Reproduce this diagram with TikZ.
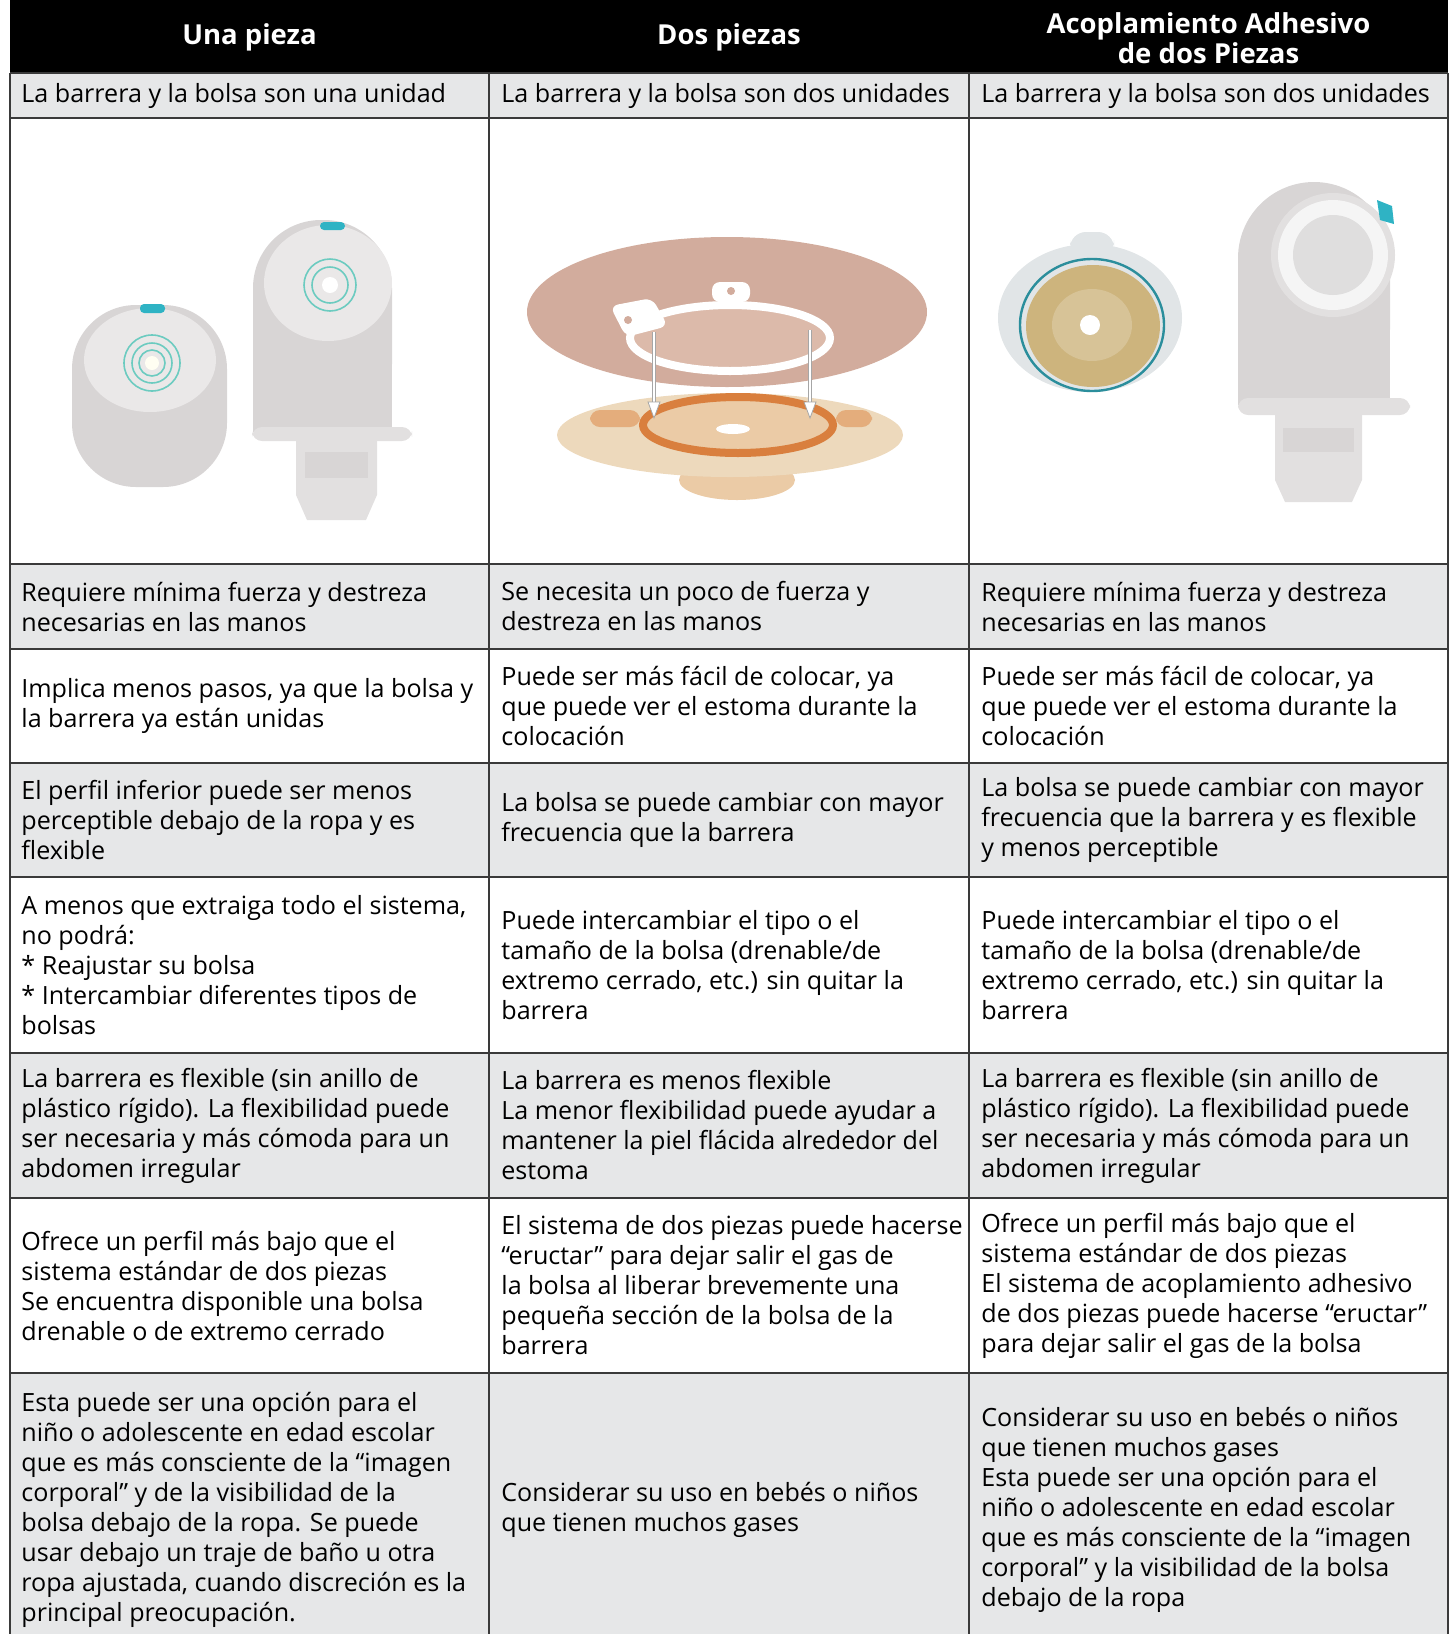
\documentclass[tikz,border=0pt]{standalone}
\usepackage{fontspec}
\setmainfont{Open Sans}
\usetikzlibrary{arrows.meta}

\definecolor{rowgray}{HTML}{E6E7E8}
\definecolor{rulegray}{HTML}{3A3A3A}
\definecolor{bagfill}{HTML}{D8D5D5}
\definecolor{baglight}{HTML}{E2E0E0}
\definecolor{disclight}{HTML}{EAE8E8}
\definecolor{tealring}{HTML}{6CCBC0}
\definecolor{tealmark}{HTML}{2FB3C4}
\definecolor{flange}{HTML}{D2AC9D}
\definecolor{flangein}{HTML}{DCBAAA}
\definecolor{barrier}{HTML}{EDD9BC}
\definecolor{barrierin}{HTML}{EBCBA6}
\definecolor{orangering}{HTML}{D97F3E}
\definecolor{roundbar}{HTML}{E1E5E7}
\definecolor{bluering}{HTML}{2B8E9C}
\definecolor{tanwafer}{HTML}{CDB47D}

\begin{document}
\begin{tikzpicture}[x=0.5pt, y=-0.5pt,
txt/.style={anchor=west, align=left, inner sep=0pt, font=\fontsize{12.55}{15}\selectfont},
hdr/.style={align=center, inner sep=0pt, text=white, font=\bfseries\fontsize{13.75}{15}\selectfont},
rule/.style={draw=rulegray, line width=1pt},
bag/.style={fill=bagfill},
ring/.style={draw=tealring, line width=0.8pt},
arrowline/.style={draw=gray!70, double=white, double distance=1.2pt, line width=0.4pt},
arrowhead/.style={fill=white, draw=gray!70, line width=0.4pt}]
\path[use as bounding box] (0,0) rectangle (1453,1634);
\clip (0,0) rectangle (1453,1634);
\def\xa{21}
\def\xb{501}
\def\xc{981}

% header
\fill[black] (10,0) rectangle (1448,73);
\node[hdr] (h1) at (249.5,37) {Una pieza};
\node[hdr] (h2) at (729,37) {Dos piezas};
\node[hdr] (h3) at (1208.5,38) {Acoplamiento Adhesivo\\de dos Piezas};

% grey rows
\fill[rowgray] (10,73) rectangle (1448,118);
\fill[rowgray] (10,564) rectangle (1448,649);
\fill[rowgray] (10,763) rectangle (1448,877);
\fill[rowgray] (10,1053) rectangle (1448,1198);
\fill[rowgray] (10,1373) rectangle (1448,1660);

% rules
\draw[rule] (10,73) -- (1448,73) (10,118) -- (1448,118) (10,564) -- (1448,564)
  (10,649) -- (1448,649) (10,763) -- (1448,763) (10,877) -- (1448,877)
  (10,1053) -- (1448,1053) (10,1198) -- (1448,1198) (10,1373) -- (1448,1373);
\draw[rule] (10,73) -- (10,1660) (489,73) -- (489,1660) (969,73) -- (969,1660) (1448,73) -- (1448,1660);

% Una pieza: closed pouch
\fill[bag, rounded corners=32pt] (72,305) rectangle (227,487);
\fill[disclight] (150,360) ellipse [x radius=66, y radius=52];
\draw[ring] (152,363) circle [radius=28];
\draw[ring] (152,363) circle [radius=20];
\draw[ring] (152,363) circle [radius=13];
\fill[white!95!yellow] (152,363) circle [radius=7];
\fill[white] (152,299) ellipse [x radius=12, y radius=7];
\fill[tealmark, rounded corners=2pt] (140,304) rectangle (165,313);
% Una pieza: drainable pouch
\fill[bag, rounded corners=34pt] (253,220) rectangle (392,432);
\fill[bag] (253,330) rectangle (392,432);
\fill[disclight] (328,283) ellipse [x radius=64, y radius=58];
\draw[ring] (330,285) circle [radius=26];
\draw[ring] (330,285) circle [radius=18];
\fill[white] (330,285) circle [radius=8];
\fill[tealmark, rounded corners=2pt] (320,222) rectangle (345,230);
\fill[baglight, rounded corners=5pt] (252,427) rectangle (412,441);
\fill[baglight] (296,441) -- (377,441) -- (377,495) -- (366,520) -- (307,520) -- (296,495) -- cycle;
\fill[bagfill] (305,452) rectangle (368,478);

% Dos piezas: flange and coupling
\fill[flange] (727,312) ellipse [x radius=200, y radius=75];
\fill[flangein] (730,338) ellipse [x radius=100, y radius=33];
\draw[white, line width=4pt] (730,338) ellipse [x radius=100, y radius=33];
\fill[white, rounded corners=4pt] (712,282) rectangle (750,302);
\fill[flange] (731,291) circle [radius=4];
\fill[white, rounded corners=4pt] (610,306) -- (652,298) -- (668,326) -- (626,337) -- cycle;
\fill[flange] (628,320) circle [radius=4];
% Dos piezas: barrier
\fill[barrierin] (737,480) ellipse [x radius=58, y radius=20];
\fill[barrier] (730,435) ellipse [x radius=173, y radius=42];
\fill[barrierin!60!orangering, rounded corners=5pt] (590,410) rectangle (640,427);
\fill[barrierin!60!orangering, rounded corners=5pt] (836,410) rectangle (872,427);
\fill[barrierin] (738,425) ellipse [x radius=95, y radius=28];
\draw[orangering, line width=4pt] (738,425) ellipse [x radius=95, y radius=28];
\fill[white] (733,429) ellipse [x radius=17, y radius=5];
% Dos piezas: arrows
\coordinate (arrLtop) at (654,332);
\coordinate (arrLtip) at (654,418);
\coordinate (arrRtop) at (810,330);
\coordinate (arrRtip) at (810,418);
\draw[arrowline] (arrLtop) -- ++(0,72);
\draw[arrowline] (arrRtop) -- ++(0,74);
\draw[arrowhead] (arrLtip) -- ++(-6,-16) -- ++(12,0) -- cycle;
\draw[arrowhead] (arrRtip) -- ++(-6,-16) -- ++(12,0) -- cycle;

% Acoplamiento: round barrier
\fill[roundbar, rounded corners=8pt] (1070,232) rectangle (1114,256);
\fill[roundbar] (1090,318) ellipse [x radius=92, y radius=74];
\fill[tanwafer] (1093,326) ellipse [x radius=67, y radius=61];
\fill[tanwafer!80!white] (1092,325) ellipse [x radius=40, y radius=36];
\draw[bluering, line width=1.2pt] (1092,325) ellipse [x radius=72, y radius=66];
\fill[white] (1090,325) circle [radius=10];
% Acoplamiento: pouch
\fill[bag, rounded corners=38pt] (1238,182) rectangle (1390,405);
\fill[bag] (1238,300) rectangle (1390,405);
\fill[baglight] (1333,255) circle [radius=62];
\fill[white!92!gray] (1333,255) circle [radius=55];
\fill[disclight!90!gray] (1333,255) circle [radius=40];
\fill[tealmark] (1377,200) -- (1392,206) -- (1394,224) -- (1380,220) -- cycle;
\fill[baglight, rounded corners=5pt] (1238,398) rectangle (1410,415);
\fill[baglight] (1275,415) -- (1362,415) -- (1362,480) -- (1352,502) -- (1285,502) -- (1275,480) -- cycle;
\fill[bagfill] (1283,428) rectangle (1354,452);

% row 1
\node[txt] (a1) at (\xa,95.5) {La barrera y la bolsa son una unidad};
\node[txt] (a2) at (\xb,95.5) {La barrera y la bolsa son dos unidades};
\node[txt] (a3) at (\xc,95.5) {La barrera y la bolsa son dos unidades};
% row 3
\node[txt] (b1) at (\xa,606.5) {Requiere mínima fuerza y destreza\\necesarias en las manos};
\node[txt] (b2) at (\xb,606.5) {Se necesita un poco de fuerza y\\destreza en las manos};
\node[txt] (b3) at (\xc,606.5) {Requiere mínima fuerza y destreza\\necesarias en las manos};
% row 4
\node[txt] (c1) at (\xa,706) {Implica menos pasos, ya que la bolsa y\\la barrera ya están unidas};
\node[txt] (c2) at (\xb,706) {Puede ser más fácil de colocar, ya\\que puede ver el estoma durante la\\colocación};
\node[txt] (c3) at (\xc,706) {Puede ser más fácil de colocar, ya\\que puede ver el estoma durante la\\colocación};
% row 5
\node[txt] (d1) at (\xa,820) {El perfil inferior puede ser menos\\perceptible debajo de la ropa y es\\flexible};
\node[txt] (d2) at (\xb,820) {La bolsa se puede cambiar con mayor\\frecuencia que la barrera};
\node[txt] (d3) at (\xc,820) {La bolsa se puede cambiar con mayor\\frecuencia que la barrera y es flexible\\y menos perceptible};
% row 6
\node[txt] (e1) at (\xa,965) {A menos que extraiga todo el sistema,\\no podrá:\\* Reajustar su bolsa\\* Intercambiar diferentes tipos de\\bolsas};
\node[txt] (e2) at (\xb,965) {Puede intercambiar el tipo o el\\tamaño de la bolsa (drenable/de\\extremo cerrado, etc.) sin quitar la\\barrera};
\node[txt] (e3) at (\xc,965) {Puede intercambiar el tipo o el\\tamaño de la bolsa (drenable/de\\extremo cerrado, etc.) sin quitar la\\barrera};
% row 7
\node[txt] (f1) at (\xa,1125.5) {La barrera es flexible (sin anillo de\\plástico rígido). La flexibilidad puede\\ser necesaria y más cómoda para un\\abdomen irregular};
\node[txt] (f2) at (\xb,1125.5) {La barrera es menos flexible\\La menor flexibilidad puede ayudar a\\mantener la piel flácida alrededor del\\estoma};
\node[txt] (f3) at (\xc,1125.5) {La barrera es flexible (sin anillo de\\plástico rígido). La flexibilidad puede\\ser necesaria y más cómoda para un\\abdomen irregular};
% row 8
\node[txt] (g1) at (\xa,1285.5) {Ofrece un perfil más bajo que el\\sistema estándar de dos piezas\\Se encuentra disponible una bolsa\\drenable o de extremo cerrado};
\node[txt] (g2) at (\xb,1285.5) {El sistema de dos piezas puede hacerse\\“eructar” para dejar salir el gas de\\la bolsa al liberar brevemente una\\pequeña sección de la bolsa de la\\barrera};
\node[txt] (g3) at (\xc,1285.5) {Ofrece un perfil más bajo que el\\sistema estándar de dos piezas\\El sistema de acoplamiento adhesivo\\de dos piezas puede hacerse “eructar”\\para dejar salir el gas de la bolsa};
% row 9
\node[txt] (k1) at (\xa,1510) {Esta puede ser una opción para el\\niño o adolescente en edad escolar\\que es más consciente de la “imagen\\corporal” y de la visibilidad de la\\bolsa debajo de la ropa. Se puede\\usar debajo un traje de baño u otra\\ropa ajustada, cuando discreción es la\\principal preocupación.};
\node[txt] (k2) at (\xb,1510) {Considerar su uso en bebés o niños\\que tienen muchos gases};
\node[txt] (k3) at (\xc,1510) {Considerar su uso en bebés o niños\\que tienen muchos gases\\Esta puede ser una opción para el\\niño o adolescente en edad escolar\\que es más consciente de la “imagen\\corporal” y la visibilidad de la bolsa\\debajo de la ropa};
\end{tikzpicture}
\end{document}
